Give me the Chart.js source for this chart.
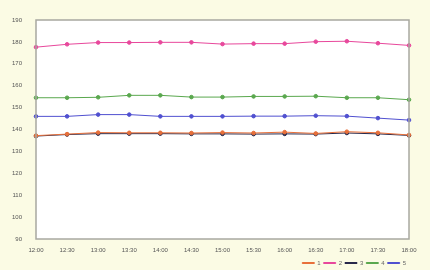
<!DOCTYPE html>
<html>
<head>
<meta charset="utf-8">
<script src="https://cdn.jsdelivr.net/npm/chart.js@4/dist/chart.umd.min.js"></script>
<style>
  html, body { margin: 0; padding: 0; background: #fbfbe4; }
  #wrap { width: 430px; height: 270px; }
</style>
</head>
<body>
<div id="wrap"><canvas id="myChart" width="430" height="270"></canvas></div>
<script>
// time labels, every 30 min
var times = ['12:00','12:30','13:00','13:30','14:00','14:30','15:00','15:30','16:00','16:30','17:00','17:30','18:00'];

var s1 = [137.2, 137.9, 138.6, 138.5, 138.5, 138.4, 138.6, 138.4, 138.8, 138.2, 139.0, 138.5, 137.5];
var s2 = [177.6, 178.9, 179.7, 179.7, 179.8, 179.8, 179.0, 179.2, 179.2, 180.1, 180.3, 179.4, 178.4];
var s3 = [137.0, 137.7, 138.1, 138.1, 138.1, 138.0, 138.0, 137.9, 138.0, 137.9, 138.4, 138.0, 137.3];
var s4 = [154.5, 154.5, 154.7, 155.6, 155.6, 154.8, 154.8, 155.1, 155.1, 155.2, 154.5, 154.5, 153.6];
var s5 = [146.0, 146.0, 146.8, 146.8, 146.0, 146.0, 146.0, 146.1, 146.1, 146.3, 146.1, 145.2, 144.3];

var yTicksMin = 90, yTicksMax = 190, yStep = 10;

function line(label, data, color) {
    return {
        label: label,
        data: data,
        borderColor: color,
        backgroundColor: color,
        borderWidth: 1,
        pointRadius: 1.8,
        pointHoverRadius: 2,
        tension: 0
    };
}

// page yellow, plot white with a grey frame
var frame = {
    id: 'frame',
    beforeDraw: function(chart) {
        var c = chart.ctx, a = chart.chartArea;
        c.save();
        c.fillStyle = '#fbfbe4';
        c.fillRect(0, 0, chart.width, chart.height);
        c.fillStyle = '#ffffff';
        c.fillRect(a.left, a.top, a.right - a.left, a.bottom - a.top);
        c.restore();
    },
    afterDatasetsDraw: function(chart) {
        var c = chart.ctx, a = chart.chartArea;
        c.save();
        c.strokeStyle = '#a8a8a0';
        c.lineWidth = 1.5;
        c.strokeRect(a.left, a.top, a.right - a.left, a.bottom - a.top);
        c.restore();
    }
};

var ctx = document.getElementById('myChart').getContext('2d');
var myChart = new Chart(ctx, {
    type: 'line',
    data: {
        labels: times,
        datasets: [
            line('1', s1, '#e8703a'),
            line('2', s2, '#e8489c'),
            line('3', s3, '#28284a'),
            line('4', s4, '#5aa84e'),
            line('5', s5, '#5050d0')
        ]
    },
    options: {
        responsive: false,
        animation: false,
        layout: { padding: { top: 20, right: 21, left: 0, bottom: -6 } },
        plugins: {
            legend: {
                position: 'bottom',
                align: 'end',
                labels: {
                    boxWidth: 12,
                    boxHeight: 1,
                    padding: 3,
                    color: '#666',
                    font: { family: 'Liberation Sans', size: 6 }
                }
            },
            tooltip: { enabled: false }
        },
        scales: {
            x: {
                offset: false,
                grid: { display: false },
                border: { display: false },
                ticks: {
                    maxRotation: 0,
                    autoSkip: false,
                    padding: 0,
                    color: '#555',
                    font: { family: 'Liberation Sans', size: 6 }
                },
                afterFit: function(scale) { scale.height = 18; }
            },
            y: {
                min: yTicksMin,
                max: yTicksMax,
                grid: { display: false },
                border: { display: false },
                ticks: {
                    stepSize: yStep,
                    padding: 6,
                    color: '#555',
                    font: { family: 'Liberation Sans', size: 6 }
                },
                afterFit: function(scale) { scale.width = 36; }
            }
        }
    },
    plugins: [frame]
});
</script>
</body>
</html>
